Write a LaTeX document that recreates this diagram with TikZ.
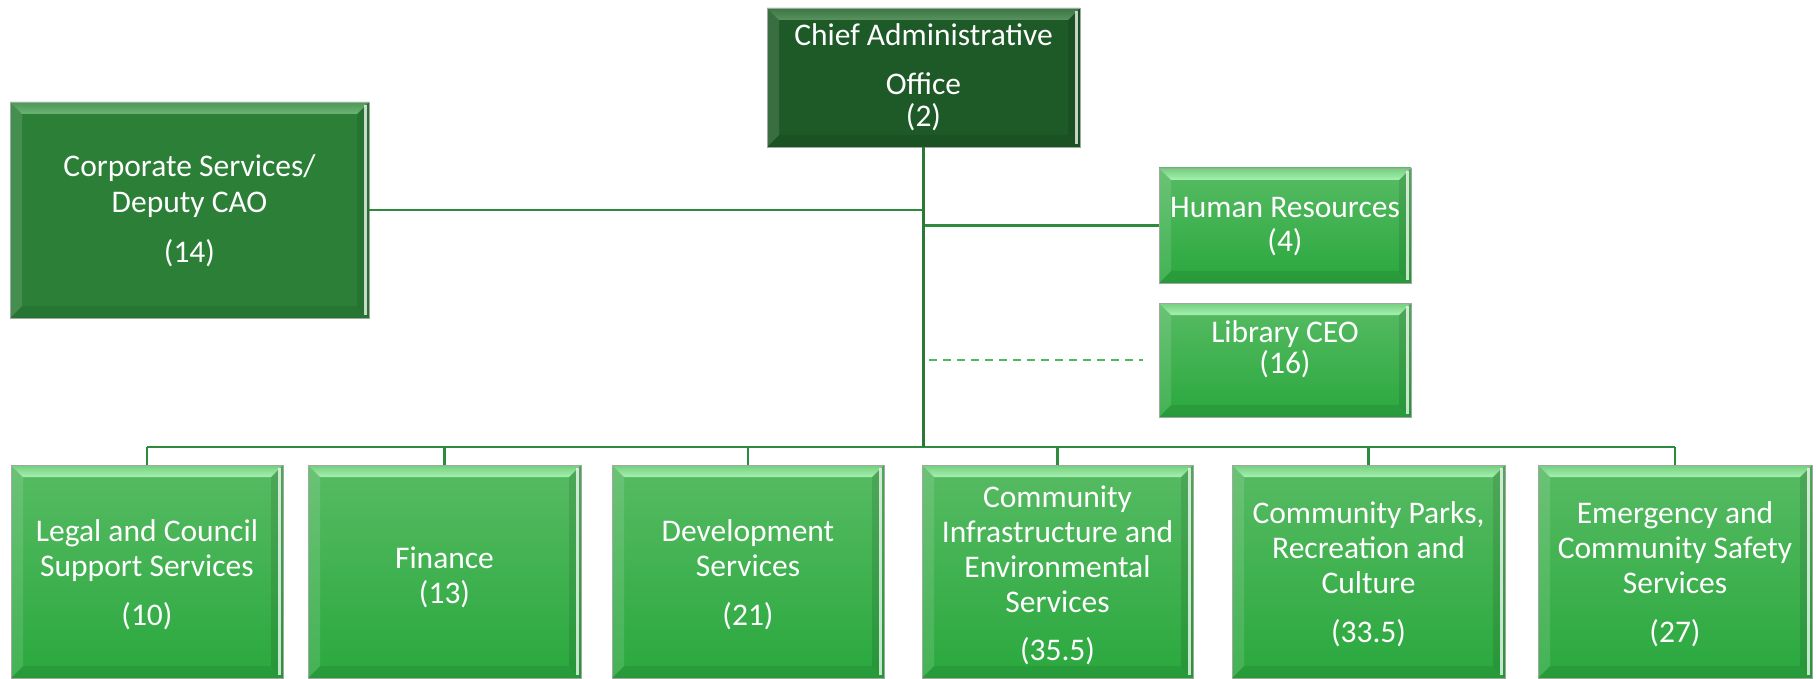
\documentclass[tikz,border=0pt]{standalone}
\usepackage{fontspec}
\setmainfont{Carlito}
\usetikzlibrary{calc}
\definecolor{caoFill}{HTML}{1E5A27}
\definecolor{corpFill}{HTML}{2B7F37}
\definecolor{brightTop}{HTML}{57BB63}
\definecolor{brightBot}{HTML}{2AA83E}
\definecolor{boxEdge}{HTML}{A0A8A0}
\definecolor{lineGreen}{HTML}{2E8B3E}
\definecolor{stemGreen}{HTML}{2A7A35}
\definecolor{dashGreen}{HTML}{4DB85C}
\definecolor{brBevT}{HTML}{72CF7E}
\definecolor{brBevB}{HTML}{A8F0B0}
\definecolor{caoBevT}{HTML}{3A7742}
\definecolor{caoBevB}{HTML}{5A925F}
\definecolor{corpBevT}{HTML}{4C9856}
\definecolor{corpBevB}{HTML}{6BB374}
\newcommand{\bevelize}[2]{%
  \path[#2] (#1.north west) -- (#1.north east) -- ($(#1.north east)+(-12,12)$) -- ($(#1.north west)+(12,12)$) -- cycle;
  \fill[white, opacity=0.12] (#1.north west) -- ($(#1.north west)+(12,12)$) -- ($(#1.south west)+(12,-12)$) -- (#1.south west) -- cycle;
  \fill[black, opacity=0.10] (#1.north east) -- (#1.south east) -- ($(#1.south east)+(-12,-12)$) -- ($(#1.north east)+(-12,12)$) -- cycle;
  \fill[black, opacity=0.08] (#1.south west) -- (#1.south east) -- ($(#1.south east)+(-12,-12)$) -- ($(#1.south west)+(12,-12)$) -- cycle;
  \fill[white, opacity=0.75] ($(#1.north east)+(-5,3)$) rectangle ($(#1.south east)+(-2,-3)$);
  \draw[boxEdge, line width=0.8pt] (#1.north west) rectangle (#1.south east);
}
\tikzset{
  orgbox/.style={rectangle, inner sep=0pt, outer sep=0pt, anchor=north west},
  brightbox/.style={orgbox, top color=brightTop, bottom color=brightBot},
  caobox/.style={orgbox, fill=caoFill},
  corpbox/.style={orgbox, fill=corpFill},
  lbl/.style={text=white, align=center, anchor=base, inner sep=0pt, font=\fontsize{31.5}{35}\selectfont},
  conn/.style={draw=lineGreen, line width=2.4pt},
  stemline/.style={draw=stemGreen, line width=3.2pt},
  dashline/.style={draw=dashGreen, line width=2pt, dash pattern=on 8pt off 6pt},
  brightbevel/.style={top color=brBevT, bottom color=brBevB},
}
\begin{document}
\begin{tikzpicture}[x=1pt, y=-1pt]
\useasboundingbox[fill=white] (0,0) rectangle (1816,679);
% boxes
\node[caobox, minimum width=313pt, minimum height=139pt] (cao) at (767,8) {};
\node[corpbox, minimum width=359pt, minimum height=216pt] (corp) at (10,102) {};
\node[brightbox, minimum width=252pt, minimum height=115pt] (hr) at (1159,168) {};
\node[brightbox, minimum width=252pt, minimum height=114pt] (lib) at (1159,303) {};
\node[brightbox, minimum width=272pt, minimum height=213pt] (legal) at (11,465) {};
\node[brightbox, minimum width=273pt, minimum height=213pt] (fin) at (308,465) {};
\node[brightbox, minimum width=272pt, minimum height=213pt] (dev) at (612,465) {};
\node[brightbox, minimum width=271pt, minimum height=213pt] (infra) at (922,465) {};
\node[brightbox, minimum width=273pt, minimum height=213pt] (parks) at (1232,465) {};
\node[brightbox, minimum width=274pt, minimum height=213pt] (emerg) at (1538,465) {};
\bevelize{cao}{top color=caoBevT, bottom color=caoBevB}
\bevelize{corp}{top color=corpBevT, bottom color=corpBevB}
\bevelize{hr}{brightbevel}
\bevelize{lib}{brightbevel}
\bevelize{legal}{brightbevel}
\bevelize{fin}{brightbevel}
\bevelize{dev}{brightbevel}
\bevelize{infra}{brightbevel}
\bevelize{parks}{brightbevel}
\bevelize{emerg}{brightbevel}
% labels (anchored at the baseline of the last line)
\node[lbl] (tcao) at (923.5,127) {Chief Administrative\\[14pt]Office\\[-3pt](2)};
\node[lbl] (tcorp) at (189.5,263) {Corporate Services/\\Deputy CAO\\[16pt](14)};
\node[lbl] (thr) at (1285,252) {Human Resources\\(4)};
\node[lbl] (tlib) at (1285,373) {Library CEO\\[-4pt](16)};
\node[lbl] (tlegal) at (147,625) {Legal and Council\\Support Services\\[14pt](10)};
\node[lbl] (tfin) at (444.5,603) {Finance\\(13)};
\node[lbl] (tdev) at (748,625) {Development\\Services\\[14pt](21)};
\node[lbl] (tinfra) at (1057.5,660) {Community\\Infrastructure and\\Environmental\\Services\\[13pt](35.5)};
\node[lbl] (tparks) at (1368.5,642) {Community Parks,\\Recreation and\\Culture\\[14pt](33.5)};
\node[lbl] (temerg) at (1675,642) {Emergency and\\Community Safety\\Services\\[14pt](27)};
% connectors
\coordinate (bus) at (924,447);
\draw[conn] (legal.north |- bus) -- (emerg.north |- bus);
\foreach \b in {legal,fin,dev,infra,parks,emerg}{
  \draw[conn] (\b.north) -- (\b.north |- bus);
}
\draw[conn] (corp.east) -- (corp.east -| cao.south);
\draw[conn] (hr.west) -- (hr.west -| cao.south);
\coordinate (dashS) at (929,360);
\draw[dashline] (dashS) -- ($(lib.west)+(-16,0)$);
\draw[stemline] (cao.south) -- (cao.south |- bus);
\end{tikzpicture}
\end{document}
